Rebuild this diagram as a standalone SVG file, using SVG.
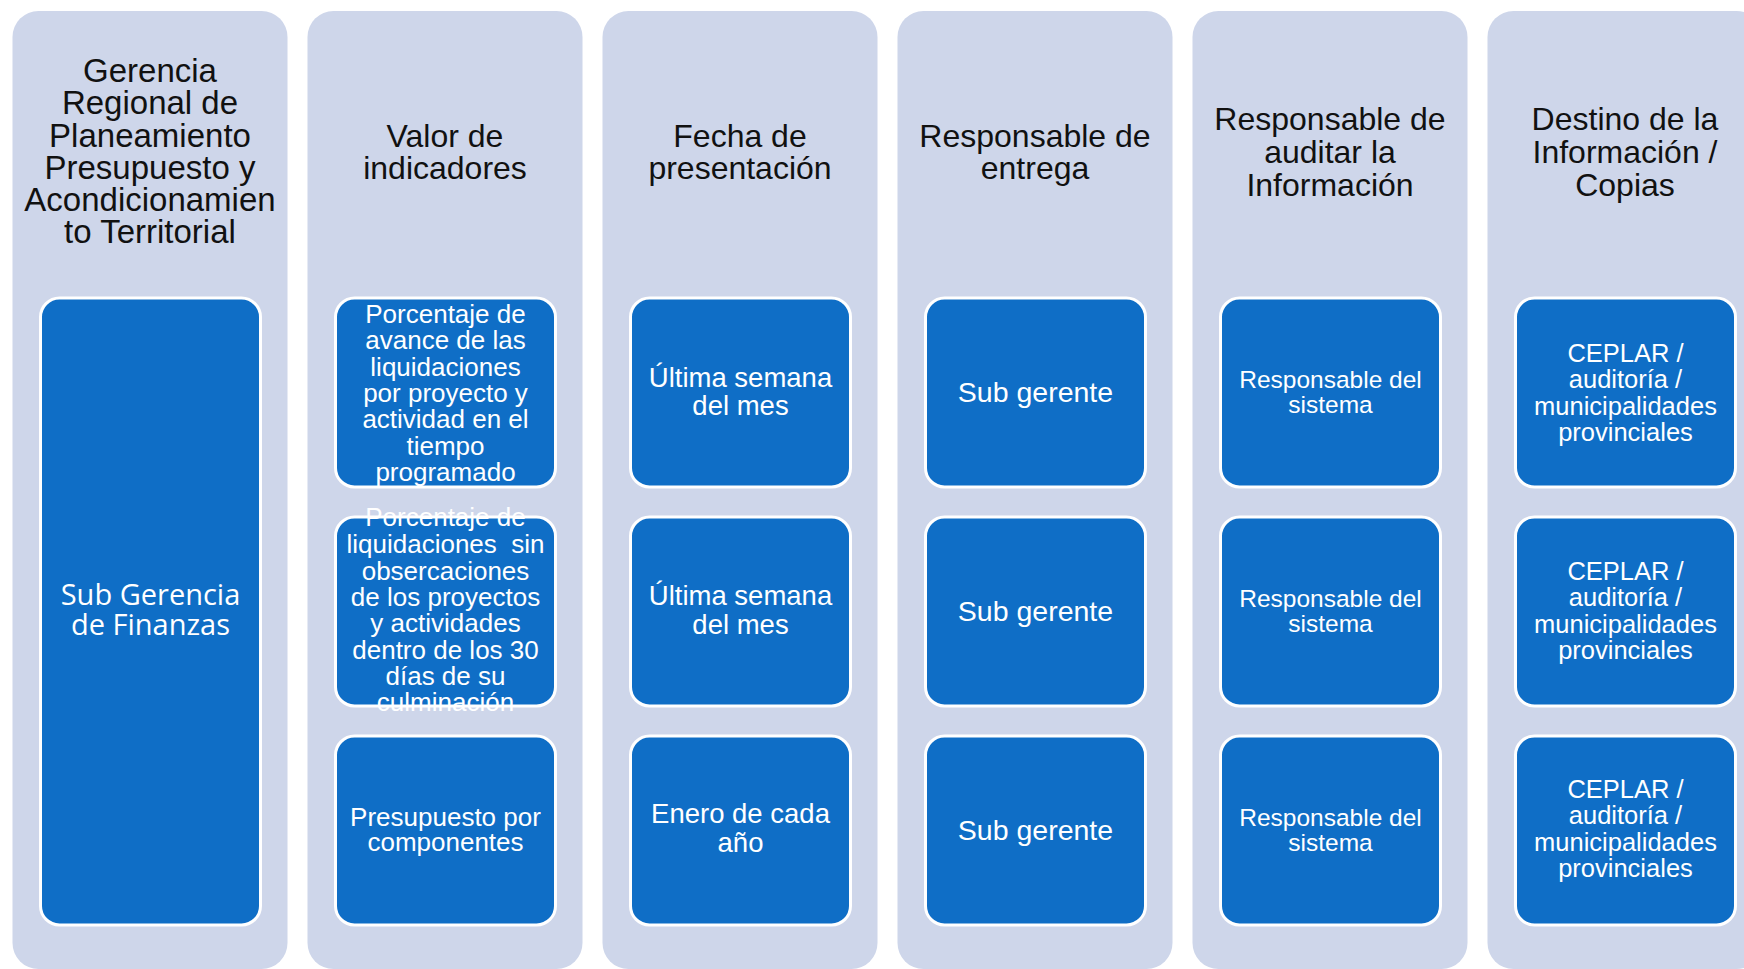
<svg xmlns="http://www.w3.org/2000/svg" width="1744" height="969" viewBox="0 0 1744 969">
<style>
.col{fill:#CED6EA;}
.box{fill:#0F6EC6;stroke:#FFFFFF;stroke-width:3;}
.hd{font-family:"Liberation Sans",Arial,sans-serif;fill:#111111;text-anchor:middle;}
.in{font-family:"Liberation Sans",Arial,sans-serif;fill:#FFFFFF;text-anchor:middle;}
.big{font-family:"Open Sans","Liberation Sans",sans-serif;fill:#FFFFFF;text-anchor:middle;font-size:29px;}
</style>
<rect width="1744" height="969" fill="#FFFFFF"/>
<g id="col1">
<rect class="col" x="12.5" y="11" width="275" height="958" rx="26"/>
<text class="hd" font-size="33" x="150" y="81.5">Gerencia</text>
<text class="hd" font-size="33" x="150" y="114">Regional de</text>
<text class="hd" font-size="33" x="150" y="146.5">Planeamiento</text>
<text class="hd" font-size="33" x="150" y="178.5">Presupuesto y</text>
<text class="hd" font-size="33" x="150" y="211">Acondicionamien</text>
<text class="hd" font-size="33" x="150" y="243">to Territorial</text>
<g id="col1-box">
<rect class="box" x="40.5" y="298" width="220" height="627" rx="19"/>
<text class="big" x="150.5" y="605">Sub Gerencia</text>
<text class="big" x="150.5" y="635">de Finanzas</text>
</g>
</g>
<g id="col2">
<rect class="col" x="307.5" y="11" width="275" height="958" rx="26"/>
<text class="hd" font-size="32" x="445" y="146.5">Valor de</text>
<text class="hd" font-size="32" x="445" y="178.5">indicadores</text>
<g id="col2-box1">
<rect class="box" x="335.5" y="298" width="220" height="189" rx="19"/>
<text class="in" font-size="26" x="445.5" y="323">Porcentaje de</text>
<text class="in" font-size="26" x="445.5" y="349">avance de las</text>
<text class="in" font-size="26" x="445.5" y="376">liquidaciones</text>
<text class="in" font-size="26" x="445.5" y="402">por proyecto y</text>
<text class="in" font-size="26" x="445.5" y="428">actividad en el</text>
<text class="in" font-size="26" x="445.5" y="455">tiempo</text>
<text class="in" font-size="26" x="445.5" y="481">programado</text>
</g>
<g id="col2-box2">
<rect class="box" x="335.5" y="517" width="220" height="189" rx="19"/>
<text class="in" font-size="26" x="445.5" y="526">Porcentaje de</text>
<text class="in" font-size="26" x="445.5" y="553" xml:space="preserve">liquidaciones  sin</text>
<text class="in" font-size="26" x="445.5" y="580">obsercaciones</text>
<text class="in" font-size="26" x="445.5" y="606">de los proyectos</text>
<text class="in" font-size="26" x="445.5" y="632">y actividades</text>
<text class="in" font-size="26" x="445.5" y="659">dentro de los 30</text>
<text class="in" font-size="26" x="445.5" y="685">días de su</text>
<text class="in" font-size="26" x="445.5" y="711">culminación</text>
</g>
<g id="col2-box3">
<rect class="box" x="335.5" y="736" width="220" height="189" rx="19"/>
<text class="in" font-size="26" x="445.5" y="826">Presupuesto por</text>
<text class="in" font-size="26" x="445.5" y="851">componentes</text>
</g>
</g>
<g id="col3">
<rect class="col" x="602.5" y="11" width="275" height="958" rx="26"/>
<text class="hd" font-size="32" x="740" y="146.5">Fecha de</text>
<text class="hd" font-size="32" x="740" y="178.5">presentación</text>
<g id="col3-box1">
<rect class="box" x="630.5" y="298" width="220" height="189" rx="19"/>
<text class="in" font-size="27.5" x="740.5" y="387">Última semana</text>
<text class="in" font-size="27.5" x="740.5" y="415">del mes</text>
</g>
<g id="col3-box2">
<rect class="box" x="630.5" y="517" width="220" height="189" rx="19"/>
<text class="in" font-size="27.5" x="740.5" y="605">Última semana</text>
<text class="in" font-size="27.5" x="740.5" y="634">del mes</text>
</g>
<g id="col3-box3">
<rect class="box" x="630.5" y="736" width="220" height="189" rx="19"/>
<text class="in" font-size="27.5" x="740.5" y="823">Enero de cada</text>
<text class="in" font-size="27.5" x="740.5" y="852">año</text>
</g>
</g>
<g id="col4">
<rect class="col" x="897.5" y="11" width="275" height="958" rx="26"/>
<text class="hd" font-size="32" x="1035" y="146.5">Responsable de</text>
<text class="hd" font-size="32" x="1035" y="178.5">entrega</text>
<g id="col4-box1">
<rect class="box" x="925.5" y="298" width="220" height="189" rx="19"/>
<text class="in" font-size="28.5" x="1035.5" y="402">Sub gerente</text>
</g>
<g id="col4-box2">
<rect class="box" x="925.5" y="517" width="220" height="189" rx="19"/>
<text class="in" font-size="28.5" x="1035.5" y="621">Sub gerente</text>
</g>
<g id="col4-box3">
<rect class="box" x="925.5" y="736" width="220" height="189" rx="19"/>
<text class="in" font-size="28.5" x="1035.5" y="840">Sub gerente</text>
</g>
</g>
<g id="col5">
<rect class="col" x="1192.5" y="11" width="275" height="958" rx="26"/>
<text class="hd" font-size="32" x="1330" y="130">Responsable de</text>
<text class="hd" font-size="32" x="1330" y="162.5">auditar la</text>
<text class="hd" font-size="32" x="1330" y="195.5">Información</text>
<g id="col5-box1">
<rect class="box" x="1220.5" y="298" width="220" height="189" rx="19"/>
<text class="in" font-size="24.5" x="1330.5" y="388">Responsable del</text>
<text class="in" font-size="24.5" x="1330.5" y="413">sistema</text>
</g>
<g id="col5-box2">
<rect class="box" x="1220.5" y="517" width="220" height="189" rx="19"/>
<text class="in" font-size="24.5" x="1330.5" y="607">Responsable del</text>
<text class="in" font-size="24.5" x="1330.5" y="632">sistema</text>
</g>
<g id="col5-box3">
<rect class="box" x="1220.5" y="736" width="220" height="189" rx="19"/>
<text class="in" font-size="24.5" x="1330.5" y="826">Responsable del</text>
<text class="in" font-size="24.5" x="1330.5" y="851">sistema</text>
</g>
</g>
<g id="col6">
<rect class="col" x="1487.5" y="11" width="275" height="958" rx="26"/>
<text class="hd" font-size="32" x="1625" y="130">Destino de la</text>
<text class="hd" font-size="32" x="1625" y="162.5">Información /</text>
<text class="hd" font-size="32" x="1625" y="195.5">Copias</text>
<g id="col6-box1">
<rect class="box" x="1515.5" y="298" width="220" height="189" rx="19"/>
<text class="in" font-size="25.5" x="1625.5" y="362">CEPLAR /</text>
<text class="in" font-size="25.5" x="1625.5" y="388">auditoría /</text>
<text class="in" font-size="25.5" x="1625.5" y="415">municipalidades</text>
<text class="in" font-size="25.5" x="1625.5" y="441">provinciales</text>
</g>
<g id="col6-box2">
<rect class="box" x="1515.5" y="517" width="220" height="189" rx="19"/>
<text class="in" font-size="25.5" x="1625.5" y="580">CEPLAR /</text>
<text class="in" font-size="25.5" x="1625.5" y="606">auditoría /</text>
<text class="in" font-size="25.5" x="1625.5" y="633">municipalidades</text>
<text class="in" font-size="25.5" x="1625.5" y="659">provinciales</text>
</g>
<g id="col6-box3">
<rect class="box" x="1515.5" y="736" width="220" height="189" rx="19"/>
<text class="in" font-size="25.5" x="1625.5" y="798">CEPLAR /</text>
<text class="in" font-size="25.5" x="1625.5" y="824">auditoría /</text>
<text class="in" font-size="25.5" x="1625.5" y="851">municipalidades</text>
<text class="in" font-size="25.5" x="1625.5" y="877">provinciales</text>
</g>
</g>
<g id="connectors"></g>
</svg>
